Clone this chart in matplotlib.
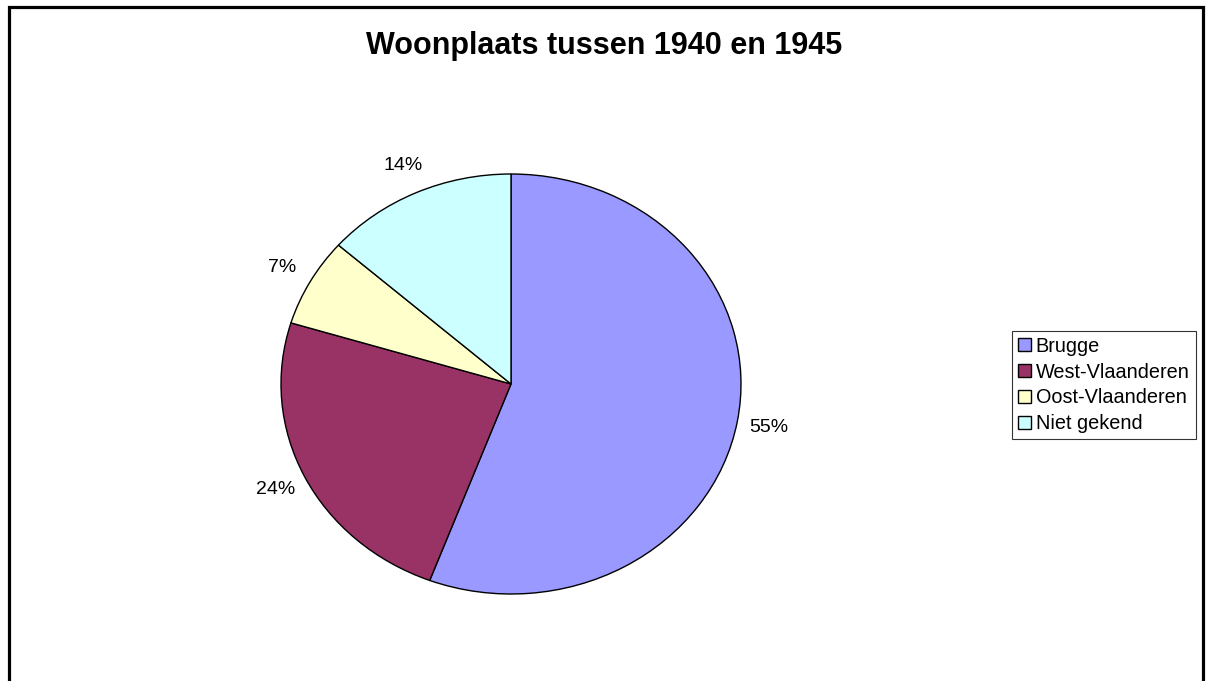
import matplotlib
matplotlib.use('Agg')
import matplotlib.pyplot as plt
from matplotlib.patches import Rectangle

plt.rcParams['font.family'] = ['Liberation Sans', 'DejaVu Sans']

categories = ['Brugge', 'West-Vlaanderen', 'Oost-Vlaanderen', 'Niet gekend']
values = [55.75, 23.95, 6.8, 13.5]
pct_labels = ['55%', '24%', '7%', '14%']
colors = ['#9999FF', '#993366', '#FFFFCC', '#CCFFFF']

W, H = 1209, 681
fig = plt.figure(figsize=(W / 100, H / 100), dpi=100)

# outer chart frame (bottom edge falls outside the image)
fig.patches.append(Rectangle((9 / W, -0.05), 1194 / W, 1.05 - 7.5 / H,
                             transform=fig.transFigure, fill=False,
                             edgecolor='black', linewidth=2.3))

fig.text(604 / W, 1 - 46 / H, 'Woonplaats tussen 1940 en 1945',
         ha='center', va='center', fontsize=22, fontweight='bold')

ax = fig.add_axes([281 / W, (H - 594) / H, 460 / W, 420 / H])
wedges, texts, autotexts = ax.pie(
    values, colors=colors, startangle=90, counterclock=False,
    autopct='%.0f%%', pctdistance=1.14,
    wedgeprops=dict(edgecolor='black', linewidth=1.0),
    textprops=dict(fontsize=14))
for t, lab in zip(autotexts, pct_labels):
    t.set_text(lab)
ax.set_aspect('auto')
ax.set_xlim(-1, 1)
ax.set_ylim(-1, 1)

leg = fig.legend(wedges, categories, loc='center left',
                 bbox_to_anchor=(1012 / W, 1 - 385 / H), fontsize=14.3,
                 frameon=True, fancybox=False, edgecolor='black',
                 handlelength=0.65, handleheight=0.65, handletextpad=0.25,
                 borderpad=0.3, labelspacing=0.35, borderaxespad=0)
leg.get_frame().set_linewidth(0.8)

fig.savefig('out.png', dpi=100)
